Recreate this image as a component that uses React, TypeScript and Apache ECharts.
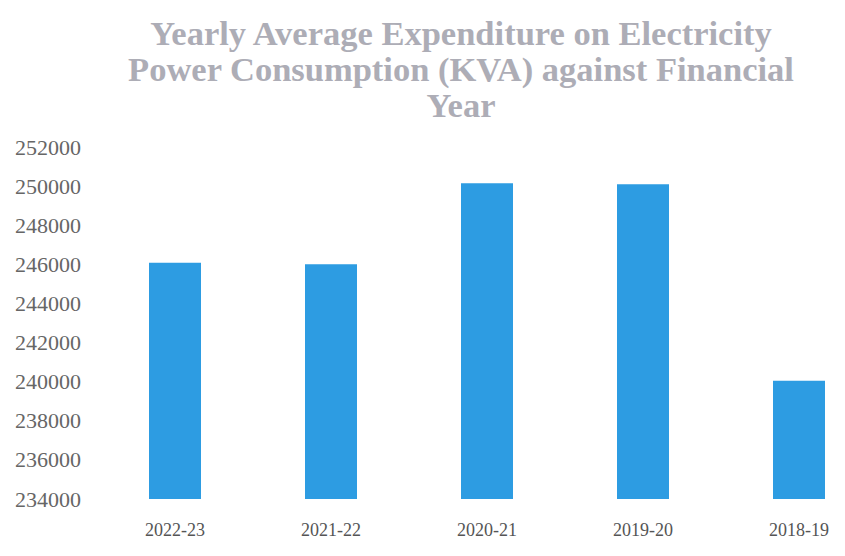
import React, { useEffect, useRef } from "react";
import * as echarts from "echarts";

const titleLines = [
  "Yearly Average Expenditure on Electricity",
  "Power Consumption (KVA) against Financial",
  "Year",
];
const categories = ["2022-23", "2021-22", "2020-21", "2019-20", "2018-19"];
const values = [246080, 246000, 250150, 250100, 240050];
const yMin = 234000;
const yMax = 252000;
const yStep = 2000;

export default function App() {
  const ref = useRef<HTMLDivElement>(null);
  useEffect(() => {
    document.body.style.margin = "0";
    document.body.style.overflow = "hidden";
    const chart = echarts.init(ref.current!, null, { renderer: "svg" });
    chart.setOption({
      animation: false,
      backgroundColor: "#ffffff",
      title: {
        text: titleLines.join("\n"),
        left: 456,
        top: 10,
        textAlign: "center",
        textStyle: {
          fontFamily: "Liberation Serif",
          fontSize: 34.5,
          fontWeight: "bold",
          color: "#adadb6",
          lineHeight: 36,
        },
      },
      grid: { left: 97, top: 147, width: 780, bottom: 57 },
      xAxis: {
        type: "category",
        data: categories,
        axisLine: { show: false },
        axisTick: { show: false },
        axisLabel: {
          margin: 22,
          fontFamily: "Liberation Serif",
          fontSize: 18,
          color: "#555555",
        },
      },
      yAxis: {
        type: "value",
        min: yMin,
        max: yMax,
        interval: yStep,
        splitLine: { show: false },
        axisLine: { show: false },
        axisTick: { show: false },
        axisLabel: {
          margin: 16,
          fontFamily: "Liberation Serif",
          fontSize: 22,
          color: "#666666",
          formatter: (v: number) => String(v),
        },
      },
      series: [
        {
          type: "bar",
          data: values,
          barWidth: 52,
          itemStyle: { color: "#2d9ce2" },
        },
      ],
    });
    return () => chart.dispose();
  }, []);
  return <div ref={ref} style={{ width: 880, height: 556 }} />;
}
